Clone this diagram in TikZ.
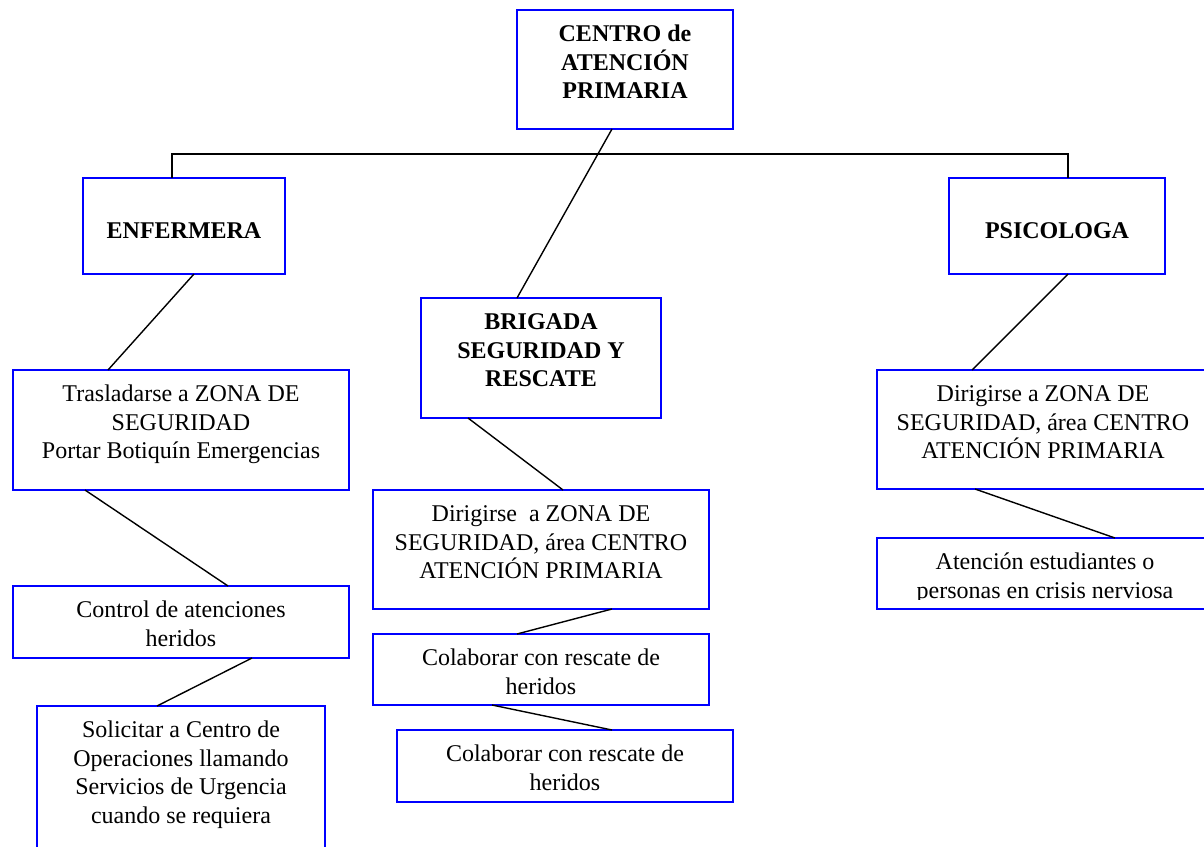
\documentclass[tikz,border=0pt]{standalone}
\usepackage{fontspec}
\setmainfont{Liberation Serif}
\usetikzlibrary{calc}
\definecolor{boxblue}{RGB}{0,0,255}

% box content: width, height, lines (first baseline 31.5pt below the top edge)
\newcommand\boxlines[3]{\parbox[c][#2][t]{#1}{\centering\rule{0pt}{31.5pt}#3\par}}

\tikzset{
  orgbox/.style={draw=boxblue, line width=2pt, inner sep=0pt, outer sep=0pt,
    anchor=north west, font=\fontsize{24}{28.5}\selectfont},
  headbox/.style={orgbox, font=\fontsize{24}{28.5}\selectfont\bfseries},
  boxedge/.style={draw=boxblue, line width=2pt},
  link/.style={draw=black, line width=1.4pt}
}

\begin{document}
\begin{tikzpicture}[x=1pt, y=-1pt]
\path[use as bounding box] (0,0) rectangle (1204,846);
\clip (0,0) rectangle (1204,846);

% head of the chart
\node[headbox] (cap) at (517,10) {\boxlines{216pt}{119pt}{CENTRO de\\ATENCIÓN\\PRIMARIA}};

% three branches
\node[headbox] (enf) at (83,178) {\boxlines{202pt}{96pt}{\\ENFERMERA}};
\node[headbox] (psi) at (949,178) {\boxlines{216pt}{96pt}{\\PSICOLOGA}};
\node[headbox] (brig) at (421,298) {\boxlines{240pt}{120pt}{BRIGADA\\SEGURIDAD Y\\RESCATE}};

% nurse tasks
\node[orgbox] (tras) at (13,370) {\boxlines{336pt}{120pt}{Trasladarse a ZONA DE\\SEGURIDAD\\Portar Botiquín Emergencias}};
\node[orgbox] (ctrl) at (13,586) {\boxlines{336pt}{72pt}{Control de atenciones\\heridos}};
\node[orgbox] (soli) at (37,706) {\boxlines{288pt}{160pt}{Solicitar a Centro de\\Operaciones llamando\\Servicios de Urgencia\\cuando se requiera}};

% brigade tasks
\node[orgbox] (dmid) at (373,490) {\boxlines{336pt}{119pt}{Dirigirse~ a ZONA DE\\SEGURIDAD, área CENTRO\\ATENCIÓN PRIMARIA}};
\node[orgbox] (col1) at (373,634) {\boxlines{336pt}{71pt}{Colaborar con rescate de\\heridos}};
\node[orgbox] (col2) at (397,730) {\boxlines{336pt}{72pt}{Colaborar con rescate de\\heridos}};

% psychologist tasks
\node[orgbox] (drgt) at (877,370) {\boxlines{332pt}{119pt}{Dirigirse a ZONA DE\\SEGURIDAD, área CENTRO\\ATENCIÓN PRIMARIA}};
\node[orgbox] (aten) at (877,538) {\boxlines{336pt}{71pt}{Atención estudiantes o\\personas en crisis nerviosa}};
% the last line of this box is cut off just above its lower edge
\fill[white] ($(aten.south west)+(1,-9)$) rectangle ($(aten.south east)+(-1,0)$);
\draw[boxedge] (aten.north west) rectangle (aten.south east);

% connectors
\draw[link] ($(cap.south west)+(95,0)$) -- ($(brig.north west)+(96,0)$);
\draw[link] ($(enf.north west)+(89,0)$) -- ++(0,-24) -| ($(psi.north west)+(119,0)$);
\draw[link] ($(enf.south west)+(111,0)$) -- ($(tras.north west)+(95,0)$);
\draw[link] ($(tras.south west)+(72,0)$) -- ($(ctrl.north west)+(215,0)$);
\draw[link] ($(ctrl.south west)+(239,0)$) -- ($(soli.north west)+(120,0)$);
\draw[link] ($(brig.south west)+(47,0)$) -- ($(dmid.north west)+(190,0)$);
\draw[link] ($(dmid.south west)+(239,0)$) -- ($(col1.north west)+(144,0)$);
\draw[link] ($(col1.south west)+(119,0)$) -- ($(col2.north west)+(215,0)$);
\draw[link] ($(psi.south west)+(119,0)$) -- ($(drgt.north west)+(95,0)$);
\draw[link] ($(drgt.south west)+(98,0)$) -- ($(aten.north west)+(238,0)$);
\end{tikzpicture}
\end{document}
